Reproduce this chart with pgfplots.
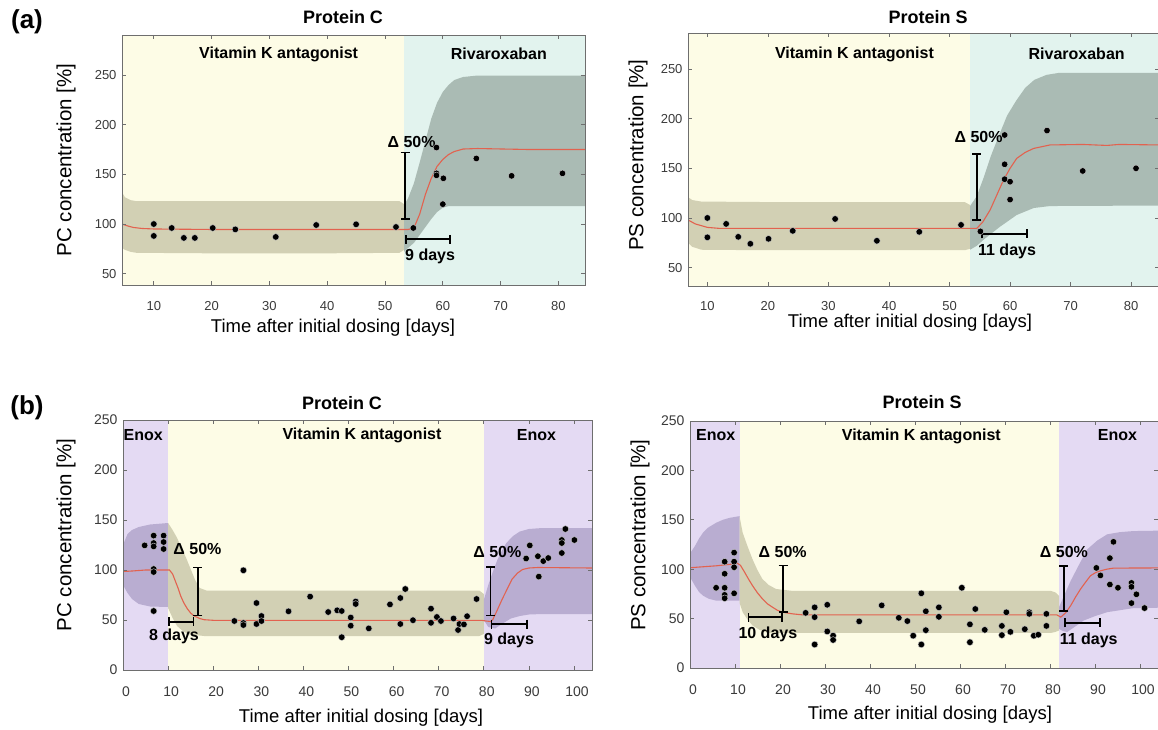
\documentclass[border=0pt]{standalone}
\usepackage{pgfplots}
\pgfplotsset{compat=1.18}
\usepackage{fontspec}
\setmainfont{Liberation Sans}
\usetikzlibrary{arrows.meta}

\definecolor{yellowbg}{HTML}{FDFCE6}
\definecolor{tealbg}{HTML}{E2F3EE}
\definecolor{lavbg}{HTML}{E4DAF3}
\definecolor{khaki}{HTML}{D2D0B4}
\definecolor{rivaband}{HTML}{AABBB4}
\definecolor{enoxband}{HTML}{B9ADD1}
\definecolor{redline}{HTML}{E2624F}
\definecolor{framecol}{HTML}{6E6E6E}
\definecolor{tickcol}{HTML}{3A3A3A}

\newcommand{\fs}[1]{\fontsize{#1}{#1}\selectfont}

\tikzset{
  bracket/.style={black, line width=1.7pt, {Bar[width=9pt]}-{Bar[width=9pt]}},
  note/.style={font=\fs{16}\bfseries},
  region/.style={font=\fs{16}\bfseries},
}
\pgfplotsset{
  panel/.style={
    scale only axis, anchor=south west, axis on top, clip=true,
    tick align=inside, xtick pos=both, ytick pos=both,
    major tick length=4pt,
    axis line style={draw=framecol, line width=0.9pt},
    every tick/.style={draw=framecol, line width=0.7pt},
    ticklabel style={font=\fs{13}, text=tickcol},
    /pgf/number format/assume math mode=true,
  },
  dots/.style={only marks, mark=*, mark size=3.3pt,
    mark options={fill=black, draw=white!80!black, line width=0.4pt}},
  fitline/.style={redline, line width=1.1pt, no marks},
}

\begin{document}
\begin{tikzpicture}
\useasboundingbox (0,0) rectangle (1158pt,729pt);

% ---------------- (a) Protein C ----------------
\begin{axis}[panel, at={(122pt,444pt)}, width=463pt, height=250pt,
  xmin=4.5, xmax=84.6, ymin=38.6, ymax=290.3,
  xtick={10,20,...,80}, ytick={50,100,...,250},
  xticklabel style={yshift=-13pt}, yticklabel style={xshift=-2pt}]
\addplot[fill=yellowbg, draw=none] coordinates {(4.5,38.6)(53.3,38.6)(53.3,290.3)(4.5,290.3)} -- cycle;
\addplot[fill=tealbg, draw=none] coordinates {(53.3,38.6)(84.6,38.6)(84.6,290.3)(53.3,290.3)} -- cycle;
\addplot[fill=khaki, draw=none] coordinates {
  (4.5,132)(5,127)(6,124)(7,123)(20,123)(40,123)(52.5,123)(53.3,120)
  (53.3,74)(52.5,71)(40,70.5)(20,70.5)(7,71)(6,72)(5,74)(4.5,76)} -- cycle;
\addplot[fill=rivaband, draw=none] coordinates {
  (53.3,119)(54,126)(55,141)(56,162)(57,184)(58,206)(59,222)(60,233)(61,240)(62,245)(63.5,248)(66,249.5)(84.6,249.5)
  (84.6,118)(61,118)(60,116.5)(59,112)(58,105)(57,97)(56,89)(55,81)(54,76)(53.3,72)} -- cycle;
\addplot[fitline] coordinates {
  (4.5,100)(5.5,98)(6.5,96.5)(8,95.5)(10,95)(20,94.5)(40,94.5)(54,94.5)(55,96)(56,110)(57,130)
  (58,146)(59,158)(60,165)(61,170)(62,173)(63.5,175.5)(66,176)(75,175)(84.6,175)};
\addplot[dots] coordinates {
  (10,100)(10,88)(13.1,96)(15.2,86)(17.1,86)(20.2,96)(24.1,94.6)(31.1,87)(38.1,99)(45.0,99.7)
  (51.9,97)(54.9,96)(58.9,177)(58.9,151)(58.9,149)(60.1,146)(60,120)(65.8,166)(71.9,148.5)(80.7,151)};
\draw[bracket] (axis cs:53.5,104) -- (axis cs:53.5,172.8);
\draw[bracket] (axis cs:53.5,84.6) -- (axis cs:61.4,84.6);
\node[note] at (axis cs:54.6,183) {Δ 50\%};
\node[note] at (axis cs:57.8,67) {9 days};
\node[region] at (axis cs:31.6,271) {Vitamin K antagonist};
\node[region] at (axis cs:69.7,271) {Rivaroxaban};
\end{axis}

% ---------------- (a) Protein S ----------------
\begin{axis}[panel, at={(688pt,443pt)}, width=471pt, height=253pt,
  xmin=6.8, xmax=84.6, ymin=31.5, ymax=286.2,
  xtick={10,20,...,80}, ytick={50,100,...,250},
  xticklabel style={yshift=-12pt}, yticklabel style={xshift=-2pt}]
\addplot[fill=yellowbg, draw=none] coordinates {(6.8,31.5)(53.4,31.5)(53.4,286.2)(6.8,286.2)} -- cycle;
\addplot[fill=tealbg, draw=none] coordinates {(53.4,31.5)(84.6,31.5)(84.6,286.2)(53.4,286.2)} -- cycle;
\addplot[fill=khaki, draw=none] coordinates {
  (6.8,121)(7.5,118)(9,116.5)(20,116)(52.5,116)(53.4,113)
  (53.4,69)(52.5,67.5)(20,67.5)(9,68)(7.5,71)(6.8,75)} -- cycle;
\addplot[fill=rivaband, draw=none] coordinates {
  (53.4,112)(54.5,122)(55.6,140)(56.8,162)(58.3,185)(59.5,203)(61,218)(62.5,231)(64,239)(66,244)(68,246)(84.6,246)
  (84.6,112.5)(66.6,112)(63.9,110)(61.1,103)(58.3,91)(55.6,78)(54.5,72)(53.4,68)} -- cycle;
\addplot[fitline] coordinates {
  (6.8,98)(8,94)(10,90.5)(12,89.5)(54.5,89.5)(55.5,96)(56.7,108)(57.8,123)(58.9,138)(60,150)(61.1,160)
  (62.5,166)(63.9,170)(66.6,173.5)(72,174)(76,173)(78,174)(84.6,173.5)};
\addplot[dots] coordinates {
  (10,100)(10,80.5)(13.1,94)(15.1,81)(17.1,74)(20.1,79)(24.1,87)(31.1,99)(38,77)(45,86)
  (51.9,93)(55.1,86.5)(59.1,183.5)(59.1,154)(59.1,139)(60,136.5)(60,118.5)(66.1,188)(72,147.3)(80.8,150)};
\draw[bracket] (axis cs:54.5,97.3) -- (axis cs:54.5,165);
\draw[bracket] (axis cs:55.2,83.9) -- (axis cs:62.9,83.9);
\node[note] at (axis cs:54.8,182) {Δ 50\%};
\node[note] at (axis cs:59.5,66) {11 days};
\node[region] at (axis cs:34.3,265) {Vitamin K antagonist};
\node[region] at (axis cs:71,265) {Rivaroxaban};
\end{axis}

% ---------------- (b) Protein C ----------------
\begin{axis}[panel, at={(123pt,59pt)}, width=469pt, height=250pt,
  xmin=0, xmax=104, ymin=0, ymax=250,
  xtick={0,10,...,100}, ytick={0,50,...,250},
  ticklabel style={font=\fs{14}},
  xticklabel style={yshift=-13pt, xshift=3pt}, yticklabel style={xshift=-2pt}]
\addplot[fill=lavbg, draw=none] coordinates {(0,0)(10,0)(10,250)(0,250)} -- cycle;
\addplot[fill=yellowbg, draw=none] coordinates {(10,0)(80,0)(80,250)(10,250)} -- cycle;
\addplot[fill=lavbg, draw=none] coordinates {(80,0)(104,0)(104,250)(80,250)} -- cycle;
\addplot[fill=enoxband, draw=none] coordinates {
  (0,125)(1,136)(2,140)(3.5,143)(6,145.5)(10,147)
  (10,63)(6,63.5)(3.5,66)(2,71)(1,77)(0,85)} -- cycle;
\addplot[fill=khaki, draw=none] coordinates {
  (10,147)(11,140)(12,132)(13,122)(14,112)(15,101)(16,90)(17,82)(18.5,79.5)(79,79.5)(80,76)
  (80,36)(79,34)(18,34)(16,35)(14.3,36)(13,40)(12,44)(11,52)(10,62)} -- cycle;
\addplot[fill=enoxband, draw=none] coordinates {
  (80,70)(81,85)(82,98)(83,110)(84,119)(85,127)(86.5,134)(88,138.5)(90,141)(93,142)(104,142)
  (104,56)(93,56)(90,55.5)(88,54)(86,51.5)(84,46)(82.5,41.5)(81,43)(80,50)} -- cycle;
\addplot[fitline] coordinates {
  (0,98.5)(2,99)(5,100)(10.3,100)(11,96)(11.6,89)(12.2,82)(12.8,74)(13.5,67)(14.3,61)(15,57)
  (15.7,54.3)(17,51.5)(18,50.3)(20,49.7)(79.5,49.7)(80.5,49)(81.5,48.5)(82,50.5)(83,60)(84.1,71)
  (85.2,81)(86.3,91)(87.5,97)(88.6,100.5)(90,102)(92,102.5)(104,102)};
\addplot[dots] coordinates {
  (4.8,124.6)(6.8,134.4)(6.8,127)(6.8,123.6)(6.8,101)(6.8,98)(6.8,59)(9.0,134.4)(9.0,128)(9.0,121)
  (24.7,49)(26.7,99.7)(26.7,47)(26.7,45)(29.6,67)(29.6,46)(30.7,54)(30.7,49)(36.7,58.7)(41.5,73.4)
  (45.5,58)(47.5,59.7)(48.5,59)(48.5,32.8)(50.5,52.5)(50.5,44.3)(51.6,68.5)(51.6,66)(54.5,41.6)
  (59.2,65.6)(61.5,72)(61.5,46)(62.6,81)(64.3,49.8)(68.3,61.3)(68.3,47.2)(69.6,53)(70.5,49)
  (73.3,51.5)(74.3,40)(74.6,46)(75.6,45.6)(76.3,53.8)(78.4,71)(89.4,111.5)(90.2,124.6)(92.0,113.8)
  (92.2,93.4)(93.2,108.9)(94.3,112)(97.3,130)(97.3,127)(97.3,117)(98.1,141)(100.1,130)};
\draw[bracket] (axis cs:16.6,53.7) -- (axis cs:16.6,103.5);
\draw[bracket] (axis cs:10,48.3) -- (axis cs:15.8,48.3);
\draw[bracket] (axis cs:81.5,53.7) -- (axis cs:81.5,103.7);
\draw[bracket] (axis cs:81.5,46) -- (axis cs:89.7,46);
\node[note] at (axis cs:16.5,121) {Δ 50\%};
\node[note] at (axis cs:11.3,33.7) {8 days};
\node[note] at (axis cs:83,118.3) {Δ 50\%};
\node[note] at (axis cs:85.6,29.3) {9 days};
\node[region] at (axis cs:4.5,235) {Enox};
\node[region] at (axis cs:53,235) {Vitamin K antagonist};
\node[region] at (axis cs:91.7,235) {Enox};
\end{axis}

% ---------------- (b) Protein S ----------------
\begin{axis}[panel, at={(690pt,61pt)}, width=468pt, height=247pt,
  xmin=0, xmax=104, ymin=0, ymax=250,
  xtick={0,10,...,100}, ytick={0,50,...,250},
  ticklabel style={font=\fs{14}},
  xticklabel style={yshift=-13pt, xshift=3pt}, yticklabel style={xshift=-2pt}]
\addplot[fill=lavbg, draw=none] coordinates {(0,0)(11,0)(11,250)(0,250)} -- cycle;
\addplot[fill=yellowbg, draw=none] coordinates {(11,0)(82,0)(82,250)(11,250)} -- cycle;
\addplot[fill=lavbg, draw=none] coordinates {(82,0)(104,0)(104,250)(82,250)} -- cycle;
\addplot[fill=enoxband, draw=none] coordinates {
  (0,116)(1.1,123.5)(2,131)(2.9,137)(4,142)(5.8,147)(7.3,150)(8.8,152)(11,153.7)
  (11,68.2)(5.8,68.2)(4.2,70)(2.9,73.2)(2,77)(1.1,83.3)(0,92)} -- cycle;
\addplot[fill=khaki, draw=none] coordinates {
  (11,153.7)(11.7,137)(12.8,123)(13.9,110)(15,99)(16.1,90)(17.5,84)(19.1,80)(22.8,78)(80.2,78)(81.2,76.5)(82,73)
  (82,38)(81.2,36.5)(80.2,35.5)(17.4,35.5)(15.5,38.5)(13.9,43)(12.8,49)(11.7,56.5)(11,66)} -- cycle;
\addplot[fill=enoxband, draw=none] coordinates {
  (82,61.6)(83.3,75)(84.6,88.3)(86.5,105)(88.3,120.2)(90.5,129)(92.7,135.3)(95.5,137.5)(98.5,138.6)(104,139)
  (104,61)(98.5,60.6)(92.7,56.5)(90,52.5)(87.5,48.1)(85.6,42)(83.8,36.4)(82.8,37.5)(82,39.7)} -- cycle;
\addplot[fitline] coordinates {
  (0,101.5)(3,102.5)(6,103.5)(9,105)(10.5,106)(11.2,104)(12,98)(13,90)(13.9,83.3)(15,76)(16.1,70)
  (17.2,65)(18.3,61.6)(19.4,58.5)(20.5,56.5)(22.8,54.8)(25,53.8)(81.5,53.8)(82.4,51.5)(83.5,56)
  (84.6,63.2)(85.7,72)(86.8,80)(88,87.5)(89,93.4)(90.1,96.5)(91.2,98.4)(92.6,100)(94.1,101.1)(104,101.3)};
\addplot[dots] coordinates {
  (5.8,81.2)(7.7,107.6)(7.7,95.4)(7.7,81.2)(7.7,74)(7.7,70.6)(9.8,116.8)(9.8,107.6)(9.8,102)(9.8,75.6)
  (25.7,55.8)(27.7,61.4)(27.7,51.5)(27.7,23.8)(30.5,64)(30.5,37)(31.8,32.7)(31.8,28.4)(37.6,47.2)
  (42.6,63.4)(46.4,50.8)(48.3,47.5)(49.6,32.7)(51.4,75.6)(51.4,23.8)(52.4,57.4)(52.4,38.3)(55.3,61.4)
  (55.3,51.8)(60.4,81.2)(62.2,44.2)(62.2,26.1)(63.4,59.7)(65.5,38.6)(69.3,42.6)(69.3,33.3)(70.3,56.4)
  (71.2,36.6)(74.4,39.3)(75.4,56.4)(75.4,54.8)(76.4,32.7)(77.4,33.7)(79.2,54.8)(79.2,42.6)(90.3,101.3)
  (91.2,93.7)(93.3,111.2)(93.3,84.5)(94.1,127.7)(95.1,81.2)(98.1,86.1)(98.1,82.2)(98.1,65.7)(99.2,74.6)(101,60.7)};
\draw[bracket] (axis cs:20.7,55.5) -- (axis cs:20.7,104.5);
\draw[bracket] (axis cs:12.8,51.5) -- (axis cs:20.7,51.5);
\draw[bracket] (axis cs:83.1,56.5) -- (axis cs:83.1,104.4);
\draw[bracket] (axis cs:83.1,45.8) -- (axis cs:91.3,45.8);
\node[note] at (axis cs:20.6,117.5) {Δ 50\%};
\node[note] at (axis cs:17.3,33.7) {10 days};
\node[note] at (axis cs:83.1,117) {Δ 50\%};
\node[note] at (axis cs:88.6,28) {11 days};
\node[region] at (axis cs:5.7,236) {Enox};
\node[region] at (axis cs:51.4,234) {Vitamin K antagonist};
\node[region] at (axis cs:95,236) {Enox};
\end{axis}

% ---------------- titles and labels ----------------
\node[font=\fs{26}\bfseries] at (27pt,707pt) {(a)};
\node[font=\fs{26}\bfseries] at (27pt,321pt) {(b)};
\node[font=\fs{18}\bfseries] at (343pt,712pt) {Protein C};
\node[font=\fs{18}\bfseries] at (928pt,712pt) {Protein S};
\node[font=\fs{18}\bfseries] at (342pt,326pt) {Protein C};
\node[font=\fs{18}\bfseries] at (922pt,327pt) {Protein S};
\node[font=\fs{20.5}, rotate=90] at (66pt,569pt) {PC concentration [\%]};
\node[font=\fs{20.5}, rotate=90] at (638pt,574pt) {PS concentration [\%]};
\node[font=\fs{20.5}, rotate=90] at (66pt,194pt) {PC concentration [\%]};
\node[font=\fs{20.5}, rotate=90] at (640pt,194pt) {PS concentration [\%]};
\node[font=\fs{18.5}] at (333pt,401pt) {Time after initial dosing [days]};
\node[font=\fs{18.5}] at (910pt,406pt) {Time after initial dosing [days]};
\node[font=\fs{18.5}] at (361pt,11pt) {Time after initial dosing [days]};
\node[font=\fs{18.5}] at (930pt,14pt) {Time after initial dosing [days]};
\end{tikzpicture}
\end{document}
